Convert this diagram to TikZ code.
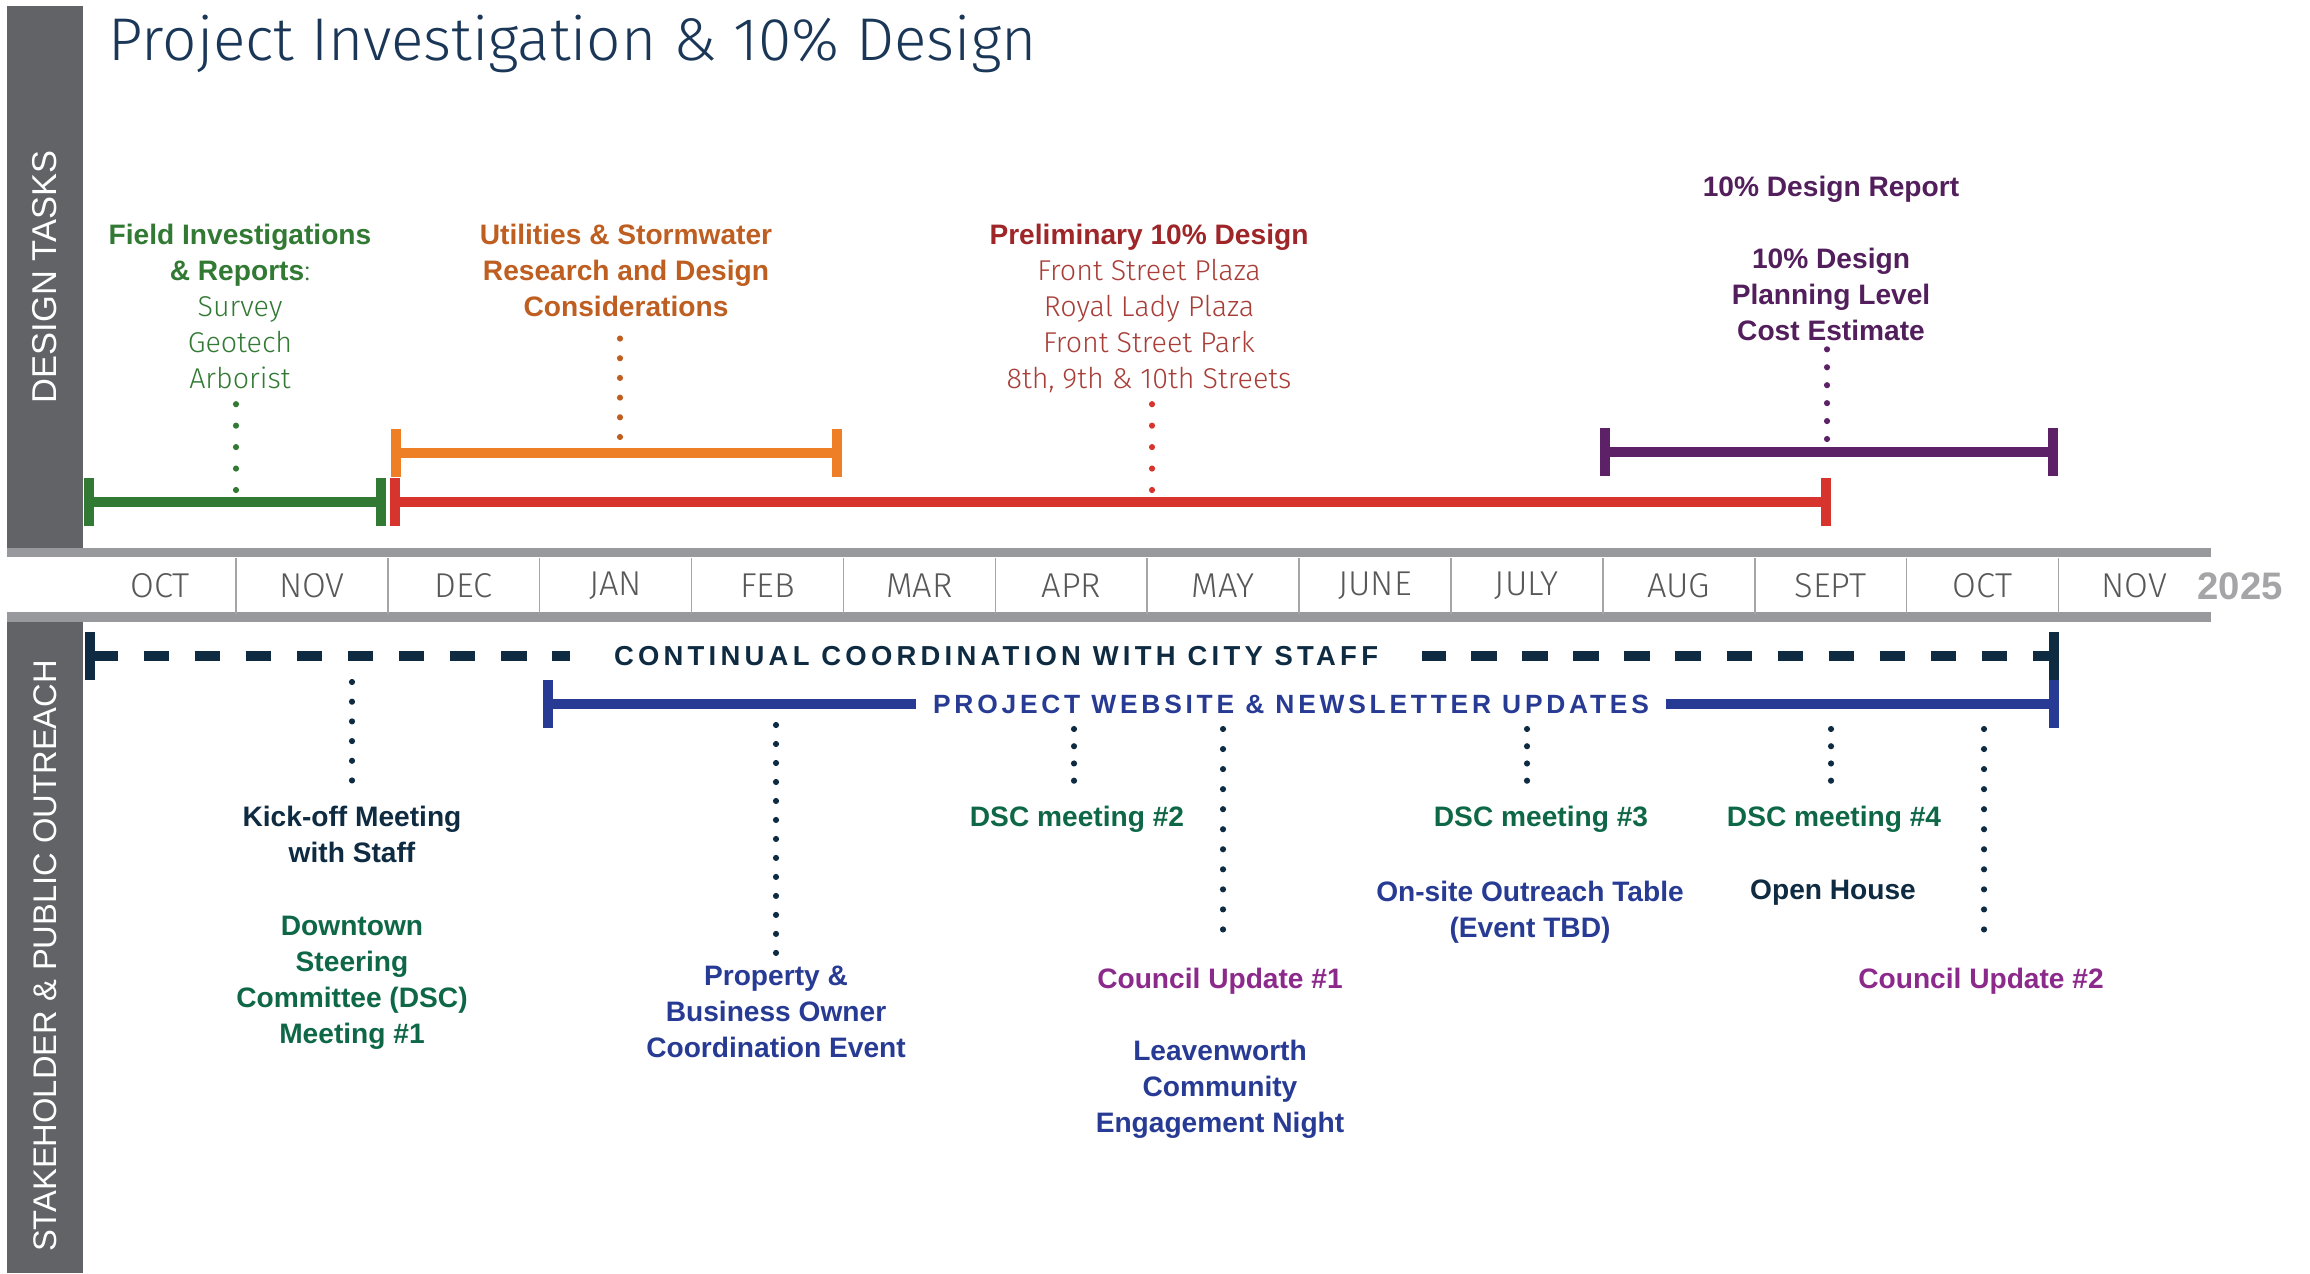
\documentclass[tikz,border=0pt]{standalone}
\usepackage{fontspec}
\setmainfont{Liberation Sans}
\newfontfamily\lightfont{Fira Sans Light}
\newfontfamily\coordfont[LetterSpace=15.5]{Liberation Sans}
\newfontfamily\webfont[LetterSpace=14.3]{Liberation Sans}
\newcommand\boldline[1]{{\fontsize{8}{10.24}\rmfamily\bfseries #1}}
\usetikzlibrary{positioning,calc,arrows.meta}

\definecolor{sidegray}{RGB}{98,99,102}
\definecolor{bandgray}{RGB}{152,153,156}
\definecolor{sepgray}{RGB}{165,165,165}
\definecolor{monthgray}{RGB}{88,88,90}
\definecolor{yeargray}{RGB}{165,165,168}
\definecolor{titleblue}{RGB}{27,55,88}
\definecolor{fieldgreen}{RGB}{50,122,52}
\definecolor{ochre}{RGB}{191,94,33}
\definecolor{barorange}{RGB}{238,127,38}
\definecolor{barred}{RGB}{214,52,44}
\definecolor{prelimred}{RGB}{158,37,40}
\definecolor{prelimlight}{RGB}{168,62,55}
\definecolor{barpurple}{RGB}{93,33,103}
\definecolor{reportpurple}{RGB}{82,30,92}
\definecolor{navy}{RGB}{14,43,66}
\definecolor{royal}{RGB}{40,59,148}
\definecolor{dscgreen}{RGB}{14,104,72}
\definecolor{councilpink}{RGB}{140,42,140}

\tikzset{
    lbl/.style={align=center,inner sep=0pt,anchor=north,font=\fontsize{8}{10.24}\selectfont\bfseries},
    lite/.style={align=center,inner sep=0pt,anchor=north,font=\fontsize{8.15}{10.24}\lightfont},
    month/.style={rectangle,anchor=west,inner sep=0pt,outer sep=0pt,minimum width=43.19pt,minimum height=15.65pt,text=monthgray,font=\fontsize{9.8}{11}\lightfont},
    monthsep/.style={draw=sepgray,line width=0.45pt},
    taskspan/.style={line width=2.7pt,{Bar[width=13.7pt,line width=2.85pt]}-{Bar[width=13.7pt,line width=2.85pt]}},
    dotline/.style={line width=1.75pt,line cap=round,dash pattern=on 0pt off #1},
    dotline/.default=5.6pt,
}

\begin{document}
\begin{tikzpicture}[x=0.01cm,y=-0.01cm]
    \useasboundingbox (0,0) rectangle (2310,1273);
    \fill[white] (0,0) rectangle (2310,1273);

    % side bars and month band
    \fill[sidegray] (7,6) rectangle (83,548);
    \fill[sidegray] (7,622) rectangle (83,1273);
    \fill[bandgray] (7,548) rectangle (2211,557);
    \fill[bandgray] (7,612) rectangle (2211,622);

    \node[rotate=90,inner sep=0pt,text=white,font=\fontsize{9.8}{11}\selectfont] (designtasks) at (45,277) {DESIGN TASKS};
    \node[rotate=90,inner sep=0pt,text=white,font=\fontsize{9.3}{11}\selectfont] (outreach) at (45,956) {STAKEHOLDER \& PUBLIC OUTREACH};

    \node[anchor=base west,inner sep=0pt,text=titleblue,font=\fontsize{17.15}{20}\lightfont] (title) at (108,61) {Project Investigation \& 10\% Design};

    % months
    \node[month] (month-oct) at (84,586) {OCT};
    \node[month] (month-nov) at ($(month-oct.east)$) {NOV};
    \node[month] (month-dec) at ($(month-nov.east)$) {DEC};
    \node[month] (month-jan) at ($(month-dec.east)$) {JAN};
    \node[month] (month-feb) at ($(month-jan.east)$) {FEB};
    \node[month] (month-mar) at ($(month-feb.east)$) {MAR};
    \node[month] (month-apr) at ($(month-mar.east)$) {APR};
    \node[month] (month-may) at ($(month-apr.east)$) {MAY};
    \node[month] (month-jun) at ($(month-may.east)$) {JUNE};
    \node[month] (month-jul) at ($(month-jun.east)$) {JULY};
    \node[month] (month-aug) at ($(month-jul.east)$) {AUG};
    \node[month] (month-sep) at ($(month-aug.east)$) {SEPT};
    \node[month] (month-oct2) at ($(month-sep.east)$) {OCT};
    \node[month] (month-nov2) at ($(month-oct2.east)$) {NOV};
    \node[inner sep=0pt,text=yeargray,font=\fontsize{10.9}{12}\selectfont\bfseries] (year) at (2240,586) {2025};

    \draw[monthsep] (month-oct.north east) -- (month-oct.south east);
    \draw[monthsep] (month-nov.north east) -- (month-nov.south east);
    \draw[monthsep] (month-dec.north east) -- (month-dec.south east);
    \draw[monthsep] (month-jan.north east) -- (month-jan.south east);
    \draw[monthsep] (month-feb.north east) -- (month-feb.south east);
    \draw[monthsep] (month-mar.north east) -- (month-mar.south east);
    \draw[monthsep] (month-apr.north east) -- (month-apr.south east);
    \draw[monthsep] (month-may.north east) -- (month-may.south east);
    \draw[monthsep] (month-jun.north east) -- (month-jun.south east);
    \draw[monthsep] (month-jul.north east) -- (month-jul.south east);
    \draw[monthsep] (month-aug.north east) -- (month-aug.south east);
    \draw[monthsep] (month-sep.north east) -- (month-sep.south east);
    \draw[monthsep] (month-oct2.north east) -- (month-oct2.south east);

    % design task spans
    \coordinate (field-start) at (84,502);
    \coordinate (field-end) at (386,502);
    \coordinate (prelim-start) at (390,502);
    \coordinate (prelim-end) at (1831,502);
    \coordinate (util-start) at (391,453);
    \coordinate (util-end) at (842,453);
    \coordinate (report-start) at (1600,452);
    \coordinate (report-end) at (2058,452);
    \draw[taskspan,draw=fieldgreen] (field-start) -- (field-end);
    \draw[taskspan,draw=barred] (prelim-start) -- (prelim-end);
    \draw[taskspan,draw=barorange] (util-start) -- (util-end);
    \draw[taskspan,draw=barpurple] (report-start) -- (report-end);

    \node[lite,text=fieldgreen] (field) at (240,223) {\boldline{Field Investigations}\\\boldline{\& Reports}:\\Survey\\Geotech\\Arborist};
    \node[lbl,text=ochre] (util) at (626,223) {Utilities \& Stormwater\\Research and Design\\Considerations};
    \node[lite,text=prelimlight] (prelim) at (1149,223) {\textcolor{prelimred}{\boldline{Preliminary 10\% Design}}\\Front Street Plaza\\Royal Lady Plaza\\Front Street Park\\8th, 9th \& 10th Streets};
    \node[lbl,text=reportpurple] (report) at (1831,175) {10\% Design Report\\[10.24pt]10\% Design\\Planning Level\\Cost Estimate};

    \coordinate (field-dot) at (236,490);
    \coordinate (util-dot) at (620,437);
    \coordinate (prelim-dot) at (1152,490);
    \coordinate (report-dot) at (1827,439);
    \draw[dotline=6.1pt,draw=fieldgreen] (field-dot) -- ($(field-dot |- field.south)+(0,8)$);
    \draw[dotline=5.6pt,draw=ochre] (util-dot) -- ($(util-dot |- util.south)+(0,15)$);
    \draw[dotline=6.1pt,draw=barred] (prelim-dot) -- ($(prelim-dot |- prelim.south)+(0,6)$);
    \draw[dotline=5.1pt,draw=barpurple] (report-dot) -- ($(report-dot |- report.south)+(0,4)$);

    % outreach lines
    \coordinate (coord-start) at (85,656);
    \coordinate (coord-end) at (2059,656);
    \coordinate (web-start) at (543,704);
    \coordinate (web-end) at (2059,704);
    \draw[taskspan,draw=navy,line width=3pt,dash pattern=on 7.26pt off 7.26pt] (coord-start) -- (coord-end);
    \draw[taskspan,draw=royal] (web-start) -- (web-end);
    \node[fill=white,inner xsep=12.5pt,inner ysep=1pt,text=navy,font=\fontsize{7.8}{9}\coordfont\bfseries] (coord-text) at (996,656) {CONTINUAL COORDINATION WITH CITY STAFF};
    \node[fill=white,inner xsep=5pt,inner ysep=1pt,text=royal,font=\fontsize{7.5}{9}\webfont\bfseries] (web-text) at (1291,704) {PROJECT WEBSITE \& NEWSLETTER UPDATES};

    % outreach events
    \node[lbl,text=navy] (kickoff) at (352,805) {Kick-off Meeting\\with Staff};
    \node[lbl,text=dscgreen] (dscone) at ($(kickoff.south)+(0,52.5)$) {Downtown\\Steering\\Committee (DSC)\\Meeting \#1};
    \node[lbl,text=royal] (property) at (776,965) {Property \&\\Business Owner\\Coordination Event};
    \node[lbl,text=dscgreen] (dsctwo) at (1077,805) {DSC meeting \#2};
    \node[lbl,text=councilpink] (councilone) at (1220,967) {Council Update \#1};
    \node[lbl,text=royal] (leaven) at (1220,1039) {Leavenworth\\Community\\Engagement Night};
    \node[lbl,text=dscgreen] (dscthree) at (1541,805) {DSC meeting \#3};
    \node[lbl,text=royal] (onsite) at (1530,880) {On-site Outreach Table\\(Event TBD)};
    \node[lbl,text=dscgreen] (dscfour) at (1834,805) {DSC meeting \#4};
    \node[lbl,text=navy] (openhouse) at (1833,879) {Open House};
    \node[lbl,text=councilpink] (counciltwo) at (1981,967) {Council Update \#2};

    \coordinate (kickoff-dot) at (352,682);
    \coordinate (property-dot) at (776,725);
    \coordinate (dsctwo-dot) at (1074,729);
    \coordinate (councilone-dot) at (1223,729);
    \coordinate (dscthree-dot) at (1527,729);
    \coordinate (dscfour-dot) at (1831,729);
    \coordinate (counciltwo-dot) at (1984,729);
    \draw[dotline=5.6pt,draw=navy] (kickoff-dot) -- ($(kickoff-dot |- kickoff.north)+(0,-22)$);
    \draw[dotline=5.4pt,draw=navy] (property-dot) -- ($(property-dot |- property.north)+(0,-10)$);
    \draw[dotline=4.9pt,draw=navy] (dsctwo-dot) -- ($(dsctwo-dot |- dsctwo.north)+(0,-22)$);
    \draw[dotline=5.7pt,draw=navy] (councilone-dot) -- ($(councilone-dot |- councilone.north)+(0,-35)$);
    \draw[dotline=4.9pt,draw=navy] (dscthree-dot) -- ($(dscthree-dot |- dscthree.north)+(0,-22)$);
    \draw[dotline=4.9pt,draw=navy] (dscfour-dot) -- ($(dscfour-dot |- dscfour.north)+(0,-22)$);
    \draw[dotline=5.7pt,draw=navy] (counciltwo-dot) -- ($(counciltwo-dot |- counciltwo.north)+(0,-35)$);
\end{tikzpicture}
\end{document}
